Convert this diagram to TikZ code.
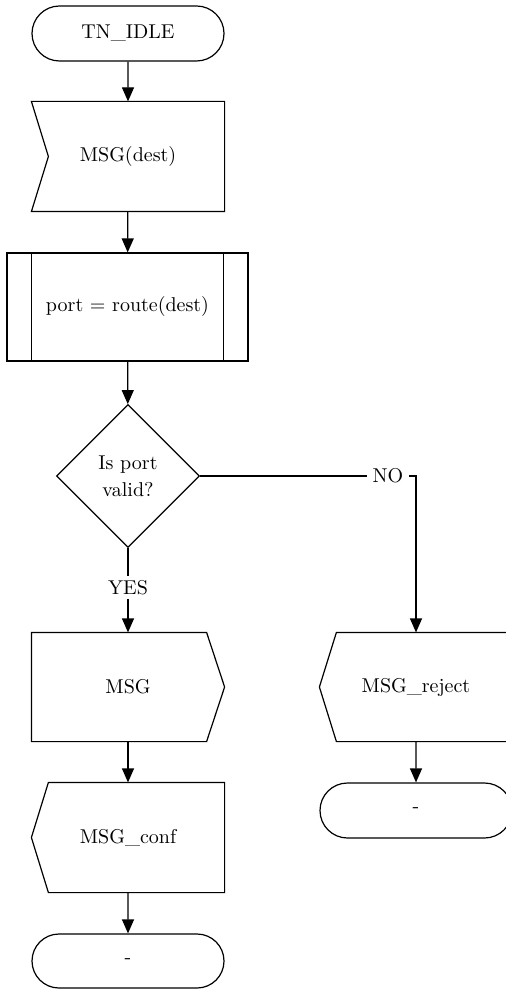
\documentclass[tikz,border=0pt]{standalone}
\usetikzlibrary{shapes.geometric,shapes.misc,arrows.meta}

\begin{document}
\begin{tikzpicture}[x=0.5pt, y=-0.5pt, line width=0.6pt,
	box/.style={minimum width=96pt, minimum height=54pt, inner sep=0pt},
	term/.style={draw, rounded rectangle, minimum width=96pt, minimum height=27.5pt, inner sep=0pt},
	proc/.style={draw, rectangle, minimum width=120.5pt, minimum height=54pt},
	decision/.style={draw, diamond, minimum width=71.5pt, minimum height=71.5pt, inner sep=0pt, align=center},
	flow/.style={-{Triangle[width=6pt,length=7pt]}},
	lbl/.style={fill=white, inner sep=2pt}]
	
	\useasboundingbox (0,0) rectangle (505,989);
	
	% left column
	\node[term] (idle) at (128,33.5) {TN\_IDLE};
	\node[box, minimum height=54.5pt] (dest) at (128,156.5) {MSG(dest)};
	\node[proc] (route) at (127.5,307) {port = route(dest)};
	\node[decision] (valid) at (128,476) {Is port\\[1.5pt]valid?};
	\node[box] (msg) at (128,687) {MSG};
	\node[box, minimum height=54.5pt] (conf) at (128,837.5) {MSG\_conf};
	\node[term, minimum height=27pt] (end1) at (128,961) {-};
	
	% right column
	\node[box] (rej) at (416,687) {MSG\_reject};
	\node[term] (end2) at (416,810.5) {-};
	
	% outlines of the signal boxes
	\draw (dest.north west) -- (dest.north east) -- (dest.south east) -- (dest.south west) -- ([xshift=8.5pt]dest.west) -- cycle;
	\draw (msg.north west) -- ([xshift=-9pt]msg.north east) -- (msg.east) -- ([xshift=-9pt]msg.south east) -- (msg.south west) -- cycle;
	\foreach \n in {conf,rej}
		\draw ([xshift=8.5pt]\n.north west) -- (\n.north east) -- (\n.south east) -- ([xshift=8.5pt]\n.south west) -- (\n.west) -- cycle;
	
	% side bars of the procedure box
	\draw ([xshift=12.5pt]route.north west) -- ([xshift=12.5pt]route.south west);
	\draw ([xshift=-12.5pt]route.north east) -- ([xshift=-12.5pt]route.south east);
	
	\draw[flow] (idle) -- (dest);
	\draw[flow] (dest) -- (route);
	\draw[flow] (route) -- (valid);
	\draw[flow] (valid.south) -- node[lbl, pos=0.47] {YES} (msg.north);
	\draw[flow] (valid.east) -- node[lbl, pos=0.87, inner sep=3pt] {NO} (valid.east -| rej.north) -- (rej.north);
	\draw[flow] (msg) -- (conf);
	\draw[flow] (conf) -- (end1);
	\draw[flow] (rej) -- (end2);
	
\end{tikzpicture}
\end{document}
